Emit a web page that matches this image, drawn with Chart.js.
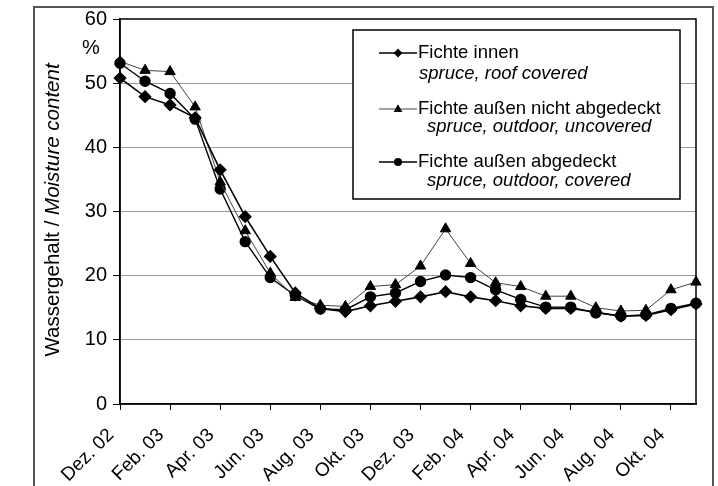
<!DOCTYPE html>
<html>
<head>
<meta charset="utf-8">
<script src="https://cdn.jsdelivr.net/npm/chart.js@4.4.1/dist/chart.umd.min.js"></script>
<style>
  body { margin: 0; background: #fff; }
  canvas { display: block; }
</style>
</head>
<body>
<canvas id="myChart" width="718" height="486"></canvas>
<script>
const months = ['Dez. 02', 'Jan. 03', 'Feb. 03', 'Mrz. 03', 'Apr. 03', 'Mai. 03', 'Jun. 03', 'Jul. 03',
    'Aug. 03', 'Sep. 03', 'Okt. 03', 'Nov. 03', 'Dez. 03', 'Jan. 04', 'Feb. 04', 'Mrz. 04',
    'Apr. 04', 'Mai. 04', 'Jun. 04', 'Jul. 04', 'Aug. 04', 'Sep. 04', 'Okt. 04', 'Nov. 04'];

const innen = [50.8, 47.9, 46.6, 44.6, 36.5, 29.2, 23.0, 17.3, 14.9, 14.4, 15.3, 16.0,
    16.7, 17.5, 16.7, 16.1, 15.3, 14.9, 14.9, 14.3, 13.7, 13.8, 14.7, 15.6];
const aussenOffen = [53.4, 52.0, 51.8, 46.3, 34.6, 27.0, 20.4, 16.6, 15.4, 15.2, 18.3, 18.6,
    21.5, 27.3, 21.9, 18.9, 18.3, 16.8, 16.8, 15.0, 14.5, 14.6, 17.8, 19.0];
const aussenAbgedeckt = [53.1, 50.3, 48.4, 44.4, 33.5, 25.3, 19.7, 16.9, 14.8, 14.7, 16.7, 17.3,
    19.1, 20.1, 19.7, 17.8, 16.3, 15.1, 15.1, 14.2, 13.7, 13.9, 14.9, 15.7];

const yTicks = [0, 10, 20, 30, 40, 50, 60];

const legendRows = [
    { de: 'Fichte innen', en: 'spruce, roof covered' },
    { de: 'Fichte außen nicht abgedeckt', en: 'spruce, outdoor, uncovered' },
    { de: 'Fichte außen abgedeckt', en: 'spruce, outdoor, covered' }
];

const FONT = '"Liberation Sans", Arial, sans-serif';

const extras = {
    id: 'extras',
    beforeDraw(chart) {
        const c = chart.ctx;
        c.save();
        c.fillStyle = '#fff';
        c.fillRect(0, 0, chart.width, chart.height);
        c.restore();
    },
    afterDatasetsDraw(chart) {
        const c = chart.ctx;
        const a = chart.chartArea;
        c.save();
        // plot frame
        c.strokeStyle = '#000';
        c.lineWidth = 1.5;
        c.strokeRect(a.left, a.top, a.right - a.left, a.bottom - a.top);

        // outer frame
        c.strokeStyle = '#555';
        c.lineWidth = 2;
        c.strokeRect(34, 7, 679, 500);

        // % unit
        c.fillStyle = '#000';
        c.font = '20px ' + FONT;
        c.textAlign = 'center';
        c.textBaseline = 'middle';
        c.fillText('%', 91, 48);

        // y title, mixed upright / italic
        c.translate(53, 210);
        c.rotate(-Math.PI / 2);
        const p1 = 'Wassergehalt / ';
        const p2 = 'Moisture content';
        c.font = '20.5px ' + FONT;
        const w1 = c.measureText(p1).width;
        c.font = 'italic 20.5px ' + FONT;
        const w2 = c.measureText(p2).width;
        c.textAlign = 'left';
        c.font = '20.5px ' + FONT;
        c.fillText(p1, -(w1 + w2) / 2, 0);
        c.font = 'italic 20.5px ' + FONT;
        c.fillText(p2, -(w1 + w2) / 2 + w1, 0);
        c.restore();

        // legend box
        c.save();
        c.fillStyle = '#fff';
        c.fillRect(353, 30, 327, 169);
        c.strokeStyle = '#000';
        c.lineWidth = 1.5;
        c.strokeRect(353, 30, 327, 169);
        const rowY = [53, 109, 162];
        const subY = [74, 127, 181];
        const subX = [419, 427, 427];
        chart.data.datasets.forEach((ds, i) => {
            const y = rowY[i];
            c.strokeStyle = ds.borderColor;
            c.lineWidth = ds.borderWidth;
            c.beginPath();
            c.moveTo(379, y);
            c.lineTo(417, y);
            c.stroke();
            const r = ds.pointRadius * 0.8;
            c.fillStyle = '#000';
            c.beginPath();
            if (ds.pointStyle === 'rectRot') {
                c.moveTo(398, y - r); c.lineTo(398 + r, y); c.lineTo(398, y + r); c.lineTo(398 - r, y);
            } else if (ds.pointStyle === 'triangle') {
                c.moveTo(398, y - r); c.lineTo(398 + r * 0.9, y + r * 0.6); c.lineTo(398 - r * 0.9, y + r * 0.6);
            } else {
                c.arc(398, y, r, 0, Math.PI * 2);
            }
            c.closePath();
            c.fill();
            c.textAlign = 'left';
            c.textBaseline = 'middle';
            c.font = '18.5px ' + FONT;
            c.fillText(legendRows[i].de, 418, y);
            c.font = 'italic 18.5px ' + FONT;
            c.fillText(legendRows[i].en, subX[i], subY[i]);
        });
        c.restore();
    }
};

const ctx = document.getElementById('myChart').getContext('2d');

new Chart(ctx, {
    type: 'line',
    data: {
        labels: months,
        datasets: [{
            label: legendRows[0].de,
            data: innen,
            borderColor: '#000',
            borderWidth: 1.6,
            pointStyle: 'rectRot',
            pointRadius: 5.5,
            pointBackgroundColor: '#000',
            pointBorderColor: '#000',
            tension: 0
        }, {
            label: legendRows[1].de,
            data: aussenOffen,
            borderColor: '#444',
            borderWidth: 1,
            pointStyle: 'triangle',
            pointRadius: 6,
            pointBackgroundColor: '#000',
            pointBorderColor: '#000',
            tension: 0
        }, {
            label: legendRows[2].de,
            data: aussenAbgedeckt,
            borderColor: '#000',
            borderWidth: 1.4,
            pointStyle: 'circle',
            pointRadius: 5,
            pointBackgroundColor: '#000',
            pointBorderColor: '#000',
            tension: 0
        }]
    },
    options: {
        responsive: false,
        animation: false,
        layout: { padding: { top: 19, right: 22, left: 0, bottom: 0 } },
        plugins: {
            legend: { display: false },
            tooltip: { enabled: false }
        },
        scales: {
            x: {
                offset: false,
                afterFit: (s) => { s.height = 82; },
                grid: {
                    drawOnChartArea: false,
                    drawTicks: true,
                    tickLength: 6,
                    tickColor: '#000'
                },
                border: { display: true, color: '#000', width: 1.5 },
                ticks: {
                    autoSkip: false,
                    minRotation: 45,
                    maxRotation: 45,
                    padding: 14,
                    labelOffset: -9,
                    color: '#000',
                    font: { family: FONT, size: 19 },
                    callback: function (v, i) { return i % 2 === 0 ? months[i] : null; }
                }
            },
            y: {
                min: yTicks[0],
                max: yTicks[yTicks.length - 1],
                afterFit: (s) => { s.width = 120; },
                afterBuildTicks: (s) => { s.ticks = yTicks.map(v => ({ value: v })); },
                grid: {
                    color: (c) => (c.tick && (c.tick.value === 0 || c.tick.value === 60)) ? 'rgba(0,0,0,0)' : '#9a9a9a',
                    lineWidth: 1,
                    tickLength: 7,
                    tickColor: '#000'
                },
                border: { display: true, color: '#000', width: 1.5 },
                ticks: {
                    padding: 6,
                    color: '#000',
                    font: { family: FONT, size: 20 }
                }
            }
        }
    },
    plugins: [extras]
});
</script>
</body>
</html>
